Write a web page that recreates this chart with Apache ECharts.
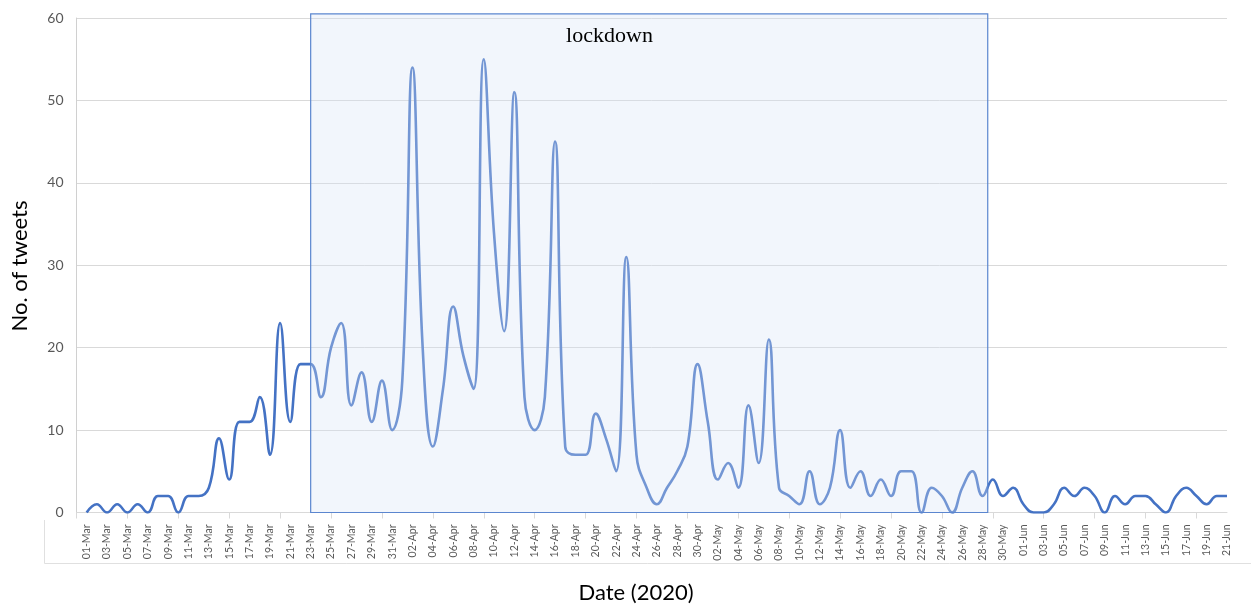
<!DOCTYPE html>
<html>
<head>
<meta charset="utf-8">
<script src="https://cdn.jsdelivr.net/npm/echarts@6/dist/echarts.min.js"></script>
<style>html,body{margin:0;padding:0;background:#fff}#c{width:1251px;height:606px}</style>
</head>
<body>
<div id="c"></div>
<script>
const dates = [
'01-Mar','02-Mar','03-Mar','04-Mar','05-Mar','06-Mar','07-Mar','08-Mar','09-Mar','10-Mar',
'11-Mar','12-Mar','13-Mar','14-Mar','15-Mar','16-Mar','17-Mar','18-Mar','19-Mar','20-Mar',
'21-Mar','22-Mar','23-Mar','24-Mar','25-Mar','26-Mar','27-Mar','28-Mar','29-Mar','30-Mar','31-Mar',
'01-Apr','02-Apr','03-Apr','04-Apr','05-Apr','06-Apr','07-Apr','08-Apr','09-Apr','10-Apr',
'11-Apr','12-Apr','13-Apr','14-Apr','15-Apr','16-Apr','17-Apr','18-Apr','19-Apr','20-Apr',
'21-Apr','22-Apr','23-Apr','24-Apr','25-Apr','26-Apr','27-Apr','28-Apr','29-Apr','30-Apr',
'01-May','02-May','03-May','04-May','05-May','06-May','07-May','08-May','09-May','10-May',
'11-May','12-May','13-May','14-May','15-May','16-May','17-May','18-May','19-May','20-May',
'21-May','22-May','23-May','24-May','25-May','26-May','27-May','28-May','29-May','30-May','31-May',
'01-Jun','02-Jun','03-Jun','04-Jun','05-Jun','06-Jun','07-Jun','08-Jun','09-Jun','10-Jun',
'11-Jun','12-Jun','13-Jun','14-Jun','15-Jun','16-Jun','17-Jun','18-Jun','19-Jun','20-Jun','21-Jun'
];
const tweets = [
0,1,0,1,0,1,0,2,2,0,
2,2,3,9,4,11,11,14,7,23,
11,18,18,14,20,23,13,17,11,16,
10,16,54,20,8,15,25,19,15,55,
34,22,51,14,10,14,45,8,7,7,
12,9,5,31,7,3,1,3,5,8,
18,11,4,6,3,13,6,21,3,2,
1,5,1,3,10,3,5,2,4,2,
5,5,0,3,2,0,3,5,2,4,
2,3,1,0,0,1,3,2,3,2,
0,2,1,2,2,1,0,2,3,2,
1,2,2
];
const yMin = 0, yMax = 60, yStep = 10;
const lockdownStart = '23-Mar';
const lockdownEnd = '28-May';
const lockdownAfter = '29-May';
const lockdownTop = 60.5;
const lockdownLabel = 'lockdown';
const xTitle = 'Date (2020)';
const yTitle = 'No. of tweets';

// leading empty slot gives the axis a small gap before the first day
const cats = [''].concat(dates);
const values = [null].concat(tweets);

const chart = echarts.init(document.getElementById('c'));
const option = {
  animation: false,
  backgroundColor: '#ffffff',
  grid: { left: 76.5, right: 24, top: 18, bottom: 93.5, containLabel: false },
  xAxis: {
    type: 'category',
    data: cats,
    boundaryGap: false,
    axisLine: { show: true, lineStyle: { color: '#d9d9d9', width: 1 } },
    axisTick: { show: true, interval: 4, length: 6, lineStyle: { color: '#d9d9d9' } },
    axisLabel: {
      interval: function (idx) { return idx % 2 === 1; },
      rotate: 90,
      margin: 12,
      fontFamily: 'Lato',
      fontSize: 10.5,
      color: '#595959'
    },
    splitLine: { show: false }
  },
  yAxis: {
    type: 'value',
    min: yMin, max: yMax, interval: yStep,
    axisLine: { show: true, lineStyle: { color: '#d0d0d0', width: 1 } },
    axisTick: { show: false },
    axisLabel: { margin: 13, fontFamily: 'Lato', fontSize: 14, color: '#595959' },
    splitLine: { show: true, lineStyle: { color: '#d9d9d9', width: 1 } }
  },
  series: [{
    type: 'line',
    data: values,
    smooth: 0.45,
    showSymbol: false,
    symbol: 'none',
    lineStyle: { color: '#4472c4', width: 2.6 },
    z: 2
  }]
};
chart.setOption(option);

const pStart = chart.convertToPixel({ gridIndex: 0 }, [lockdownStart, lockdownTop]);
const pEnd = chart.convertToPixel({ gridIndex: 0 }, [lockdownEnd, yMin]);
const pAfter = chart.convertToPixel({ gridIndex: 0 }, [lockdownAfter, yMin]);
const bx0 = pStart[0];
const bx1 = (pEnd[0] + pAfter[0]) / 2;
const by0 = pStart[1];
const by1 = pEnd[1];

chart.setOption({
  graphic: [
    {
      type: 'rect', z: 100,
      shape: { x: bx0, y: by0, width: bx1 - bx0, height: by1 - by0 },
      style: { fill: 'rgba(214,226,245,0.32)', stroke: '#5b86cf', lineWidth: 1.2 }
    },
    {
      type: 'text', z: 101, x: 609.5, y: 36,
      style: { text: lockdownLabel, font: '22px "Liberation Serif"', fill: '#000000', align: 'center', verticalAlign: 'middle' }
    },
    {
      type: 'text', z: 101, x: 20, y: 266, rotation: Math.PI / 2,
      style: { text: yTitle, font: '22px Lato', fill: '#000000', align: 'center', verticalAlign: 'middle' }
    },
    {
      type: 'text', z: 101, x: 636, y: 593,
      style: { text: xTitle, font: '22px Lato', fill: '#000000', align: 'center', verticalAlign: 'middle' }
    },
    {
      type: 'line', z: 50,
      shape: { x1: 44.5, y1: 520, x2: 44.5, y2: 563.5 },
      style: { stroke: '#e0e0e0', lineWidth: 1 }
    },
    {
      type: 'line', z: 50,
      shape: { x1: 44.5, y1: 563.5, x2: 1251, y2: 563.5 },
      style: { stroke: '#e0e0e0', lineWidth: 1 }
    }
  ]
});
</script>
</body>
</html>
